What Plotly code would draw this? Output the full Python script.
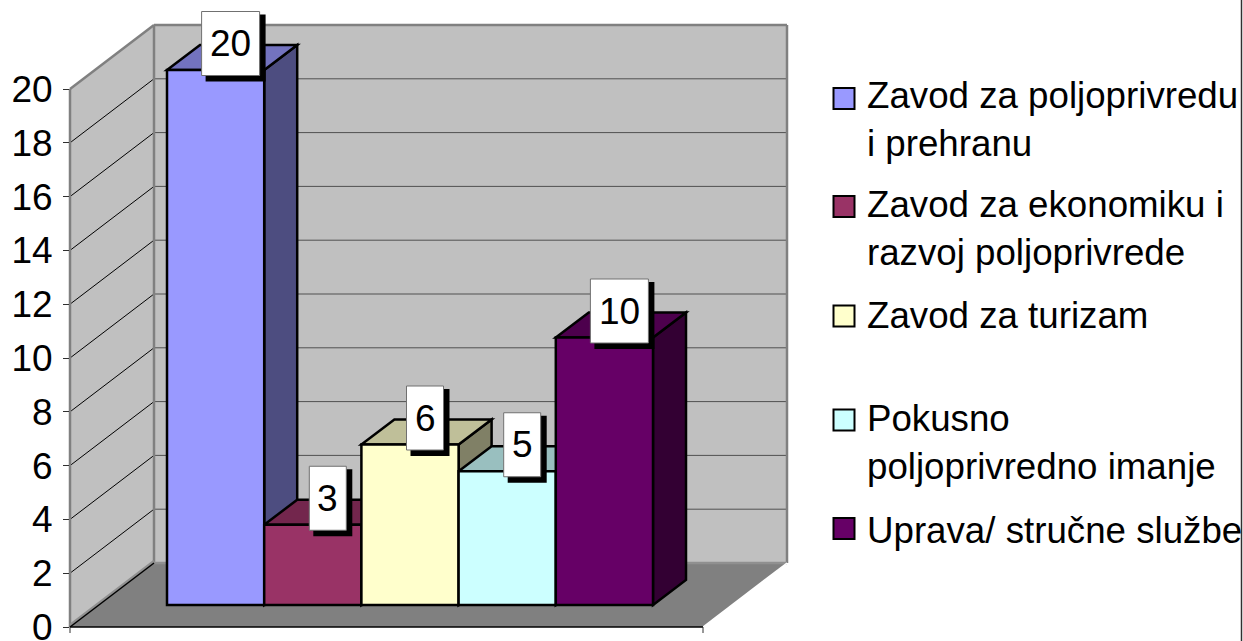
import plotly.graph_objects as go

# ---- data ----
departments = ["Zavod za poljoprivredu<br>i prehranu", "Zavod za ekonomiku i<br>razvoj poljoprivrede",
               "Zavod za turizam", "Pokusno<br>poljoprivredno imanje", "Uprava/ stručne službe"]
values = [20, 3, 6, 5, 10]
front_colors = ["#9999FF", "#993366", "#FFFFCC", "#CCFFFF", "#660066"]
top_colors = ["#7373BF", "#73264D", "#BFBF99", "#99BFBF", "#4D004D"]
side_colors = ["#4D4D80", "#4D1A33", "#808066", "#668080", "#330033"]
y_ticks = list(range(0, 21, 2))

# ---- layout geometry (pixels of the 1243x641 page) ----
W, H = 1243, 641
L, R, PT, PB = 70, 787, 4, 640         # plot box (room above and below the chart box)
T, B = 25, 627                          # top of the back wall, front floor line
WALL_DX, WALL_DY = 84, 64              # depth of the chart box
UNIT_AXIS = 26.9                        # px per value unit on the tick axis
UNIT_BAR = 26.75                        # px per value unit at the bars plane
BAR_BASE_PX = 605
BAR_W = 97.2
BAR_C0 = 215.6
BAR_DX, BAR_DY = 33, 25                 # depth of a bar

def px(x): return (x - L) / (R - L)
def py(y): return (PB - y) / (PB - PT)
def axis_y(v): return B - UNIT_AXIS * v

shapes = []

def poly(points, fill, line="rgba(0,0,0,0)", width=0):
    d = "M " + " L ".join(f"{px(a):.5f} {py(b):.5f}" for a, b in points) + " Z"
    shapes.append(dict(type="path", path=d, xref="paper", yref="paper", layer="below",
                       fillcolor=fill, line=dict(color=line, width=width)))

def seg(a, b, color, width):
    shapes.append(dict(type="line", xref="paper", yref="paper", layer="below",
                       x0=px(a[0]), y0=py(a[1]), x1=px(b[0]), y1=py(b[1]),
                       line=dict(color=color, width=width)))

top20 = axis_y(max(y_ticks))
# walls and floor
poly([(L, B), (L, top20), (L + WALL_DX, T), (L + WALL_DX, B - WALL_DY)], "#C0C0C0")
poly([(L + WALL_DX, T), (R, T), (R, B - WALL_DY), (L + WALL_DX, B - WALL_DY)], "#C0C0C0")
poly([(L, B), (R - WALL_DX, B), (R, B - WALL_DY), (L + WALL_DX, B - WALL_DY)], "#808080")

# gridlines
for v in y_ticks[1:-1]:
    y = axis_y(v)
    seg((L, y), (L + WALL_DX, y - WALL_DY), "#000000", 1)
    seg((L + WALL_DX, y - WALL_DY), (R, y - WALL_DY), "#505050", 1)

# wall edges
seg((L, top20), (L + WALL_DX, T), "#808080", 2.5)
seg((L + WALL_DX, T), (R, T), "#808080", 2.5)
seg((R, T), (R, B - WALL_DY), "#808080", 2.5)
seg((L + WALL_DX, T), (L + WALL_DX, B - WALL_DY), "#808080", 2.5)
seg((L, top20), (L, B), "#808080", 2.5)
seg((L + WALL_DX, B - WALL_DY), (R, B - WALL_DY), "#909090", 2.5)
seg((L, B - 2), (L + WALL_DX, B - WALL_DY - 2), "#909090", 2.5)
seg((L, B), (L + WALL_DX, B - WALL_DY), "#000000", 1.5)
seg((R - WALL_DX, B), (R, B - WALL_DY), "#FFFFFF", 1.5)
seg((L, B), (R - WALL_DX, B), "#000000", 1.5)
seg((L, B), (L, B + 6), "#303030", 1)
seg((R - WALL_DX, B), (R - WALL_DX, B + 6), "#303030", 1)

# bar depth faces (painted left to right, under the bar fronts)
dx_u = BAR_DX / BAR_W
dy_u = BAR_DY / UNIT_BAR
for i, v in enumerate(values):
    xl, xr = i - 0.5, i + 0.5
    shapes.append(dict(type="path", xref="x", yref="y2", layer="below", fillcolor=side_colors[i],
                       line=dict(color="#000000", width=2.5),
                       path=f"M {xr} 0 L {xr+dx_u} {dy_u} L {xr+dx_u} {v+dy_u} L {xr} {v} Z"))
    shapes.append(dict(type="path", xref="x", yref="y2", layer="below", fillcolor=top_colors[i],
                       line=dict(color="#000000", width=2.5),
                       path=f"M {xl} {v} L {xr} {v} L {xr+dx_u} {v+dy_u} L {xl+dx_u} {v+dy_u} Z"))

# data label boxes, anchored to the bar tops
LABEL_DX, LABEL_DY = 15, 26.5
annotations = []
for i, v in enumerate(values):
    w = 58 if v >= 10 else 37
    h = 64
    cx, cy = LABEL_DX, LABEL_DY
    base = dict(type="rect", xref="x", yref="y2", xsizemode="pixel", ysizemode="pixel",
                xanchor=i, yanchor=v, layer="above")
    shapes.append(dict(base, x0=cx - w / 2 + 4, x1=cx + w / 2 + 6, y0=cy + h / 2 - 3, y1=cy - h / 2 - 6,
                       fillcolor="#000000", line=dict(width=0)))
    shapes.append(dict(base, x0=cx - w / 2, x1=cx + w / 2, y0=cy + h / 2, y1=cy - h / 2,
                       fillcolor="#FFFFFF", line=dict(color="#707070", width=1)))
    annotations.append(dict(xref="x", yref="y2", x=i, y=v, xshift=cx, yshift=cy, text=str(v), showarrow=False,
                            font=dict(family="Liberation Sans", size=37, color="#000000")))

# legend
legend_y = [120, 228.5, 315.5, 442.5, 530]
swatch_y = [98.5, 206.5, 316, 420, 528.5]
for name, col, ly, sy in zip(departments, front_colors, legend_y, swatch_y):
    shapes.append(dict(type="rect", xref="paper", yref="paper", layer="above",
                       x0=px(833.5), x1=px(854.5), y0=py(sy - 10.5), y1=py(sy + 10.5),
                       fillcolor=col, line=dict(color="#000000", width=2)))
    annotations.append(dict(xref="paper", yref="paper", x=px(865.5), y=py(ly), xanchor="left", yanchor="middle",
                            align="left", text=name, showarrow=False, borderpad=0,
                            font=dict(family="Liberation Sans", size=36.7, color="#000000")))

# right frame line
shapes.append(dict(type="line", xref="paper", yref="paper", layer="above",
                   x0=px(1241.5), x1=px(1241.5), y0=py(0), y1=py(H), line=dict(color="#303030", width=1.5)))

fig = go.Figure()
# keeps the tick axis alive (all bars sit on the overlaying bar-plane axis)
fig.add_trace(go.Scatter(x=[0], y=[0], yaxis="y", mode="markers", marker=dict(opacity=0, size=1),
                         showlegend=False, hoverinfo="skip"))
for i, v in enumerate(values):
    fig.add_trace(go.Bar(x=[i], y=[v], name=departments[i].replace("<br>", " "), width=1, yaxis="y2",
                         marker=dict(color=front_colors[i], line=dict(color="#000000", width=2.5)),
                         showlegend=False, hoverinfo="skip"))

fig.update_layout(
    width=W, height=H, autosize=False, showlegend=False, barmode="overlay",
    margin=dict(l=L, r=W - R, t=PT, b=H - PB, autoexpand=False),
    paper_bgcolor="#FFFFFF", plot_bgcolor="rgba(0,0,0,0)",
    font=dict(family="Liberation Sans", color="#000000"),
    xaxis=dict(visible=False, automargin=False, range=[(L - BAR_C0) / BAR_W, (R - BAR_C0) / BAR_W]),
    yaxis=dict(range=[(B - PB) / UNIT_AXIS, (B - PT) / UNIT_AXIS], tickmode="array", tickvals=y_ticks, ticks="outside",
               ticklen=6, tickcolor="#303030", tickwidth=1, showgrid=False, zeroline=False, showline=False,
               automargin=False, ticklabeloverflow="allow", ticklabelstandoff=3,
               tickfont=dict(family="Liberation Sans", size=37, color="#000000")),
    yaxis2=dict(overlaying="y", visible=False, automargin=False,
                range=[(BAR_BASE_PX - PB) / UNIT_BAR, (BAR_BASE_PX - PT) / UNIT_BAR]),
    shapes=shapes, annotations=annotations,
)
fig.write_html("out.html", post_script="document.body.style.margin='0';document.body.style.overflow='hidden';",
               config={"displayModeBar": False})
